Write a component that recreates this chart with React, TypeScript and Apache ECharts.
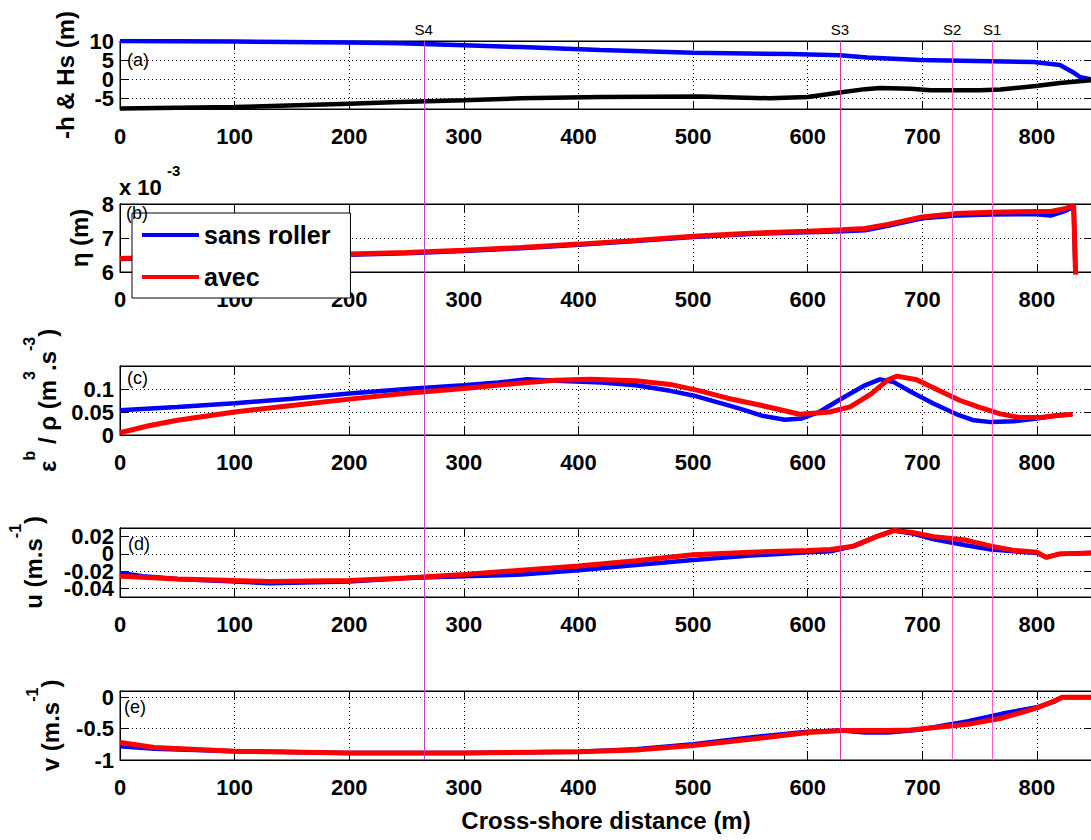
import React, { useEffect, useRef } from 'react';
import * as echarts from 'echarts';

// ---------- data ----------
const X_MAX = 848;
const stations = ['S4', 'S3', 'S2', 'S1'];
const stationX = [265, 628, 726, 761];
const stationColors = ['#c040c8', '#e030a8', '#ff5cc8', '#ff5cc8'];

// (a) Hs (blue) and -h (black)
const hsX = [0, 100, 200, 244, 300, 350, 419, 500, 585, 628, 652, 698, 759, 797, 820, 831, 838, 847];
const hsY = [10, 9.85, 9.6, 9.4, 8.9, 8.4, 7.63, 6.9, 6.6, 6.3, 5.7, 5.0, 4.7, 4.5, 3.7, 1.9, 0.5, 0];
const depthX = [0, 100, 200, 244, 300, 350, 419, 506, 567, 600, 628, 650, 663, 690, 707, 750, 768, 799, 820, 847];
const depthY = [-7.7, -7.3, -6.4, -6.0, -5.5, -5.0, -4.66, -4.5, -5.0, -4.66, -3.5, -2.6, -2.3, -2.5, -2.9, -2.9, -2.7, -1.8, -1.0, -0.3];

// (b) eta (x 10^-3 m)
const etaX = [0, 50, 100, 150, 200, 250, 300, 350, 400, 450, 500, 550, 600, 630, 650, 670, 700, 730, 760, 800, 812, 825, 832, 834];
const etaSans = [6.38, 6.43, 6.46, 6.48, 6.51, 6.55, 6.62, 6.70, 6.80, 6.91, 7.03, 7.12, 7.17, 7.2, 7.23, 7.36, 7.58, 7.66, 7.69, 7.7, 7.66, 7.8, 7.92, 5.5];
const etaAvec = [6.4, 6.45, 6.48, 6.5, 6.53, 6.57, 6.64, 6.72, 6.82, 6.93, 7.05, 7.14, 7.2, 7.24, 7.28, 7.4, 7.62, 7.72, 7.76, 7.78, 7.78, 7.87, 7.95, 5.5];

// (c) epsilon_b / rho
const epsSansX = [0, 50, 100, 150, 200, 250, 300, 330, 355, 380, 420, 450, 480, 500, 520, 540, 560, 580, 595, 610, 630, 650, 663, 675, 690, 710, 730, 745, 760, 780, 800, 815, 831];
const epsSans = [0.054, 0.061, 0.069, 0.079, 0.090, 0.100, 0.108, 0.114, 0.121, 0.118, 0.114, 0.108, 0.096, 0.086, 0.072, 0.058, 0.042, 0.033, 0.036, 0.05, 0.08, 0.108, 0.121, 0.115, 0.094, 0.068, 0.045, 0.032, 0.028, 0.03, 0.036, 0.042, 0.045];
const epsAvecX = [0, 25, 50, 100, 150, 200, 250, 300, 350, 380, 410, 450, 480, 506, 530, 560, 593, 619, 637, 655, 670, 678, 695, 715, 733, 750, 768, 785, 803, 820, 831];
const epsAvec = [0.005, 0.02, 0.032, 0.05, 0.064, 0.078, 0.091, 0.101, 0.113, 0.119, 0.121, 0.118, 0.11, 0.096, 0.08, 0.064, 0.045, 0.05, 0.061, 0.089, 0.12, 0.128, 0.12, 0.096, 0.075, 0.06, 0.046, 0.038, 0.038, 0.043, 0.045];

// (d) u
const uX = [0, 20, 50, 100, 130, 200, 250, 300, 350, 400, 450, 500, 550, 600, 620, 640, 660, 675, 690, 710, 738, 760, 780, 800, 808, 820, 848];
const uSans = [-0.022, -0.026, -0.029, -0.032, -0.034, -0.032, -0.028, -0.026, -0.024, -0.019, -0.013, -0.007, -0.002, 0.002, 0.003, 0.009, 0.02, 0.027, 0.024, 0.017, 0.01, 0.005, 0.003, 0.001, -0.004, 0.0, 0.001];
const uAvec = [-0.026, -0.027, -0.029, -0.031, -0.032, -0.031, -0.028, -0.024, -0.019, -0.014, -0.008, -0.001, 0.002, 0.004, 0.005, 0.009, 0.02, 0.027, 0.025, 0.02, 0.016, 0.009, 0.004, 0.002, -0.004, 0.0, 0.001];

// (e) v
const vX = [0, 30, 100, 200, 300, 400, 450, 500, 550, 600, 630, 650, 670, 690, 700, 740, 770, 800, 815, 822, 848];
const vSans = [-0.78, -0.82, -0.86, -0.89, -0.89, -0.87, -0.83, -0.75, -0.64, -0.55, -0.53, -0.56, -0.56, -0.53, -0.51, -0.38, -0.26, -0.16, -0.07, 0, 0];
const vAvec = [-0.72, -0.8, -0.86, -0.89, -0.89, -0.87, -0.84, -0.77, -0.67, -0.56, -0.53, -0.53, -0.53, -0.52, -0.5, -0.43, -0.33, -0.17, -0.06, 0, 0];

const panelLabels = ['(a)', '(b)', '(c)', '(d)', '(e)'];

// y tick values (split into two interleaved sets so that close labels all stay visible)
const aTicks = [[10, 0], [5, -5]];
const bTicks = [[8, 6], [7]];
const cTicks = [[0.1, 0], [0.05]];
const dTicks = [[0.02, -0.02], [0, -0.04]];
const eTicks = [[0, -1], [-0.5]];

// ---------- layout / style ----------
const FONT = 'Liberation Sans, Arial, Helvetica, sans-serif';
const LEFT = 120;
const WIDTH = 972;
const tops = [41, 204, 366, 528, 691];
const heights = [68, 68, 69, 69, 69];
const labelPos = [[127, 51], [126, 204], [127, 369], [128, 535], [124, 698]];

const pairs = (xs: number[], ys: number[]) => xs.map((x, i) => [x, ys[i]]);

const supRich = {
  n: { fontSize: 24, fontWeight: 'bold', color: '#000', lineHeight: 24, verticalAlign: 'bottom', fontFamily: FONT },
  s: { fontSize: 16, fontWeight: 'bold', color: '#000', lineHeight: 16, verticalAlign: 'top', fontFamily: FONT },
  h: { fontSize: 1, lineHeight: 38 },
};

type YCfg = { min: number; max: number; ticks: number[][]; name: string; gap: number; rich?: boolean };
const yCfgs: YCfg[] = [
  { min: -7.8, max: 10, ticks: aTicks, name: '-h & Hs (m)', gap: 43 },
  { min: 6, max: 8, ticks: bTicks, name: 'η (m)', gap: 29 },
  { min: 0, max: 0.15, ticks: cTicks, name: '{h| }{n|ε}{s|b}{n| / ρ (m}{s|3}{n|.s}{s|-3}{n|)}', gap: 61, rich: true },
  { min: -0.05, max: 0.03, ticks: dTicks, name: '{h| }{n|u (m.s}{s|-1}{n|)}', gap: 75, rich: true },
  { min: -1, max: 0.1, ticks: eTicks, name: '{h| }{n|v (m.s}{s|-1}{n|)}', gap: 58, rich: true },
];

export default function App() {
  const ref = useRef<HTMLDivElement>(null);
  useEffect(() => {
    if (!ref.current) return;
    const chart = echarts.init(ref.current, undefined, { renderer: 'svg' });

    const grids: any[] = tops.map((t, i) => ({
      left: LEFT, width: WIDTH, top: t, height: heights[i], show: true,
      backgroundColor: '#fff', borderColor: '#000', borderWidth: 1, outerBoundsMode: 'none',
    }));
    grids.push({ left: LEFT, width: WIDTH, top: tops[0], height: tops[4] + heights[4] - tops[0], show: false, outerBoundsMode: 'none' });

    const xAxes: any[] = [];
    const yAxes: any[] = [];
    const mainY: number[] = [];
    const axisLine = { show: true, onZero: false, lineStyle: { color: '#000', width: 1 } };
    const dotted = { show: true, lineStyle: { color: '#000', width: 1, type: [1, 3] } };
    tops.forEach((_, i) => {
      xAxes.push({
        type: 'value', gridIndex: i, position: 'bottom', min: 0, max: X_MAX, interval: 100,
        nameMoveOverlap: false, axisLine,
        axisTick: { show: true, inside: true, length: 8, lineStyle: { color: '#000' } },
        axisLabel: { show: true, fontSize: 22, fontWeight: 'bold', color: '#000', margin: 16, showMaxLabel: false, fontFamily: FONT },
        splitLine: dotted,
        ...(i === 4 ? {
          name: 'Cross-shore distance (m)', nameLocation: 'middle', nameGap: 48,
          nameTextStyle: { fontSize: 24, fontWeight: 'bold', color: '#000', fontFamily: FONT },
        } : {}),
      });
      xAxes.push({
        type: 'value', gridIndex: i, position: 'top', min: 0, max: X_MAX, interval: 100,
        axisLine,
        axisTick: { show: true, inside: true, length: 8, lineStyle: { color: '#000' } },
        axisLabel: { show: false }, splitLine: { show: false },
      });
      const c = yCfgs[i];
      const allTicks = ([] as number[]).concat(...c.ticks);
      c.ticks.forEach((set, k) => {
        if (k === 0) mainY.push(yAxes.length);
        yAxes.push({
          type: 'value', gridIndex: i, min: c.min, max: c.max, position: 'left', offset: 0,
          nameMoveOverlap: false, axisLine,
          axisTick: { show: true, inside: true, length: 8, lineStyle: { color: '#000' }, customValues: set },
          axisLabel: {
            show: true, fontSize: 22, fontWeight: 'bold', color: '#000', margin: 6, fontFamily: FONT,
            showMinLabel: true, showMaxLabel: true, customValues: set,
          },
          splitLine: dotted,
          ...(k === 0 ? {
            name: c.name, nameLocation: 'middle', nameRotate: 90, nameGap: c.gap,
            nameTextStyle: c.rich ? { rich: supRich } : { fontSize: 24, fontWeight: 'bold', color: '#000', fontFamily: FONT },
          } : {}),
        });
      });
      yAxes.push({
        type: 'value', gridIndex: i, min: c.min, max: c.max, position: 'right',
        axisLine,
        axisTick: { show: true, inside: true, length: 8, lineStyle: { color: '#000' }, customValues: allTicks },
        axisLabel: { show: false }, splitLine: { show: false },
      });
    });
    xAxes.push({ type: 'value', gridIndex: 5, min: 0, max: X_MAX, show: false });
    yAxes.push({ type: 'value', gridIndex: 5, min: 0, max: 1, show: false });
    const overlayY = yAxes.length - 1;

    const line = (name: string, i: number, data: number[][], color: string, width = 4.5) => ({
      type: 'line', name, xAxisIndex: 2 * i, yAxisIndex: mainY[i], data, showSymbol: false, symbol: 'none',
      lineStyle: { color, width }, itemStyle: { color }, silent: true, clip: true,
    });

    const series: any[] = [
      line('Hs', 0, pairs(hsX, hsY), '#0000ff'),
      line('-h', 0, pairs(depthX, depthY), '#000000'),
      line('sans roller', 1, pairs(etaX, etaSans), '#0000ff'),
      line('avec', 1, pairs(etaX, etaAvec), '#ff0000', 5),
      line('sans roller', 2, pairs(epsSansX, epsSans), '#0000ff'),
      line('avec', 2, pairs(epsAvecX, epsAvec), '#ff0000', 5),
      line('sans roller', 3, pairs(uX, uSans), '#0000ff'),
      line('avec', 3, pairs(uX, uAvec), '#ff0000', 5),
      line('sans roller', 4, pairs(vX, vSans), '#0000ff'),
      line('avec', 4, pairs(vX, vAvec), '#ff0000', 5),
      {
        type: 'line', name: 'stations', xAxisIndex: 10, yAxisIndex: overlayY, data: [[0, 0]],
        showSymbol: false, symbol: 'none', lineStyle: { width: 0 }, silent: true,
        markLine: {
          silent: true, symbol: ['none', 'none'], animation: false,
          label: { show: true, position: 'end', distance: 4, fontSize: 15, color: '#000', fontFamily: FONT, formatter: (p: any) => p.name },
          lineStyle: { type: 'solid', width: 1 },
          data: stations.map((s, k) => ({ name: s, xAxis: stationX[k], lineStyle: { color: stationColors[k], type: 'solid', width: 1 } })),
        },
      },
    ];

    const graphic: any[] = panelLabels.map((t, i) => ({
      type: 'text', left: labelPos[i][0], top: labelPos[i][1], z: 50,
      style: { text: t, fontSize: 18, fill: '#000', fontFamily: FONT },
    }));
    graphic.push({ type: 'text', left: 119, top: 176, z: 50, style: { text: 'x 10', fontSize: 22, fontWeight: 'bold', fill: '#000', fontFamily: FONT } });
    graphic.push({ type: 'text', left: 167, top: 163, z: 50, style: { text: '-3', fontSize: 15, fontWeight: 'bold', fill: '#000', fontFamily: FONT } });

    chart.setOption({
      animation: false,
      backgroundColor: '#fff',
      textStyle: { fontFamily: FONT },
      grid: grids,
      xAxis: xAxes,
      yAxis: yAxes,
      legend: {
        data: ['sans roller', 'avec'], orient: 'vertical', left: 132, top: 213,
        padding: [7, 20, 6, 10], itemGap: 12, itemWidth: 57, itemHeight: 4, icon: 'rect',
        backgroundColor: '#fff', borderColor: '#000', borderWidth: 1, selectedMode: false, z: 20,
        textStyle: { fontSize: 25, fontWeight: 'bold', color: '#000', lineHeight: 30, fontFamily: FONT },
      },
      series,
      graphic,
    });
    return () => chart.dispose();
  }, []);
  return <div ref={ref} style={{ position: 'absolute', left: 0, top: 0, width: 1091, height: 840 }} />;
}
